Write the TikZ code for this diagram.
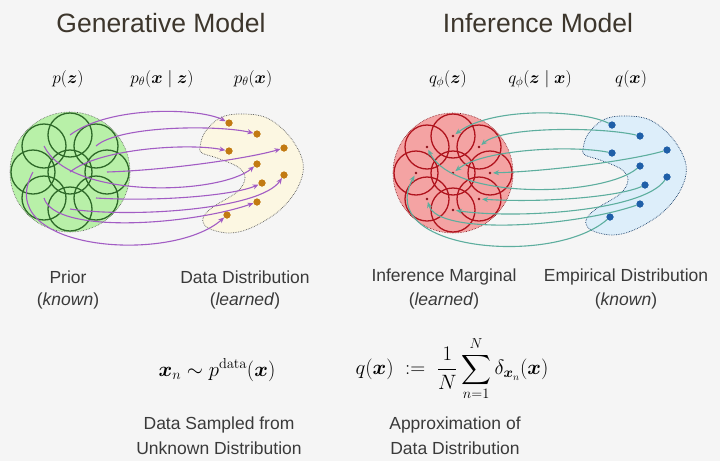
\documentclass[tikz,border=0pt]{standalone}
\usepackage{amsmath,bm}
\usepackage[no-math]{fontspec}
\setmainfont{Liberation Sans}
\usetikzlibrary{arrows.meta,calc}
\definecolor{bgc}{HTML}{F5F5F5}
\definecolor{gfill}{HTML}{B8F0A8}
\definecolor{gline}{HTML}{2F6A2A}
\definecolor{rfill}{HTML}{F4A3A3}
\definecolor{rline}{HTML}{B0141E}
\definecolor{purp}{HTML}{A25CC4}
\definecolor{tealc}{HTML}{5DAE9E}
\definecolor{yfill}{HTML}{FCF7E2}
\definecolor{bfill}{HTML}{DDEEFA}
\definecolor{odot}{HTML}{C27A12}
\definecolor{bdot}{HTML}{1F5FA8}
\definecolor{txt}{HTML}{3A3A3A}
\definecolor{ttl}{HTML}{3D362C}
\begin{document}
\begin{tikzpicture}[x=1pt,y=-1pt,
  title/.style={text=ttl,font=\fontsize{26.5}{30}\selectfont,inner sep=0pt},
  lab/.style={text=txt,font=\fontsize{17.5}{20}\selectfont,inner sep=0pt},
  mlab/.style={text=black,font=\fontsize{17}{20}\selectfont,inner sep=0pt},
  fml/.style={text=black,font=\fontsize{20}{24}\selectfont,inner sep=0pt},
  bigg/.style={circle,minimum size=120pt,inner sep=0pt,fill=gfill,draw=gray!70!black,densely dotted,line width=0.6pt},
  bigr/.style={circle,minimum size=120pt,inner sep=0pt,fill=rfill,draw=rline!70!black,densely dotted,line width=0.6pt},
  ringg/.style={draw=gline,line width=1.3pt},
  ringr/.style={draw=rline,line width=1.3pt},
  blobg/.style={fill=yfill,draw=gray!70!black,densely dotted,line width=0.7pt},
  blobr/.style={fill=bfill,draw=bdot!60!black,densely dotted,line width=0.7pt},
  ldot/.style={circle,fill=odot,minimum size=7pt,inner sep=0pt},
  rdot/.style={circle,fill=bdot,minimum size=7pt,inner sep=0pt},
  cdot/.style={circle,fill=rline!80!black,minimum size=2.8pt,inner sep=0pt},
  parrow/.style={draw=purp,line width=1.1pt,-{Stealth[length=6pt,width=5pt]}},
  tarrow/.style={draw=tealc,line width=1.1pt,{Stealth[length=6pt,width=5pt]}-,shorten <=3pt}
]
\fill[bgc] (0,0) rectangle (720,461);
\useasboundingbox (0,0) rectangle (720,461);

% titles
\node[title] (t1) at (161,23) {Generative Model};
\node[title] (t2) at (538,23) {Inference Model};

% math labels
\node[mlab] (m1) at (68,79) {$p(\bm{z})$};
\node[mlab] (m2) at (162,79) {$p_\theta(\bm{x}\mid\bm{z})$};
\node[mlab] (m3) at (253,79) {$p_\theta(\bm{x})$};
\node[mlab] (m4) at (448,79) {$q_\phi(\bm{z})$};
\node[mlab] (m5) at (540,79) {$q_\phi(\bm{z}\mid\bm{x})$};
\node[mlab] (m6) at (631,79) {$q(\bm{x})$};

% ---------- left panel ----------
\node[bigg] (G) at (70,172) {};
\foreach \n/\dx/\dy in {C/0/0,T/0/-37,TR/26/-26,R/37/0,BR/26/26,B/0/37,BL/-26/26,L/-37/0,TL/-26/-26}{
  \coordinate (lg\n) at ($(G)+(\dx,\dy)$);
  \draw[ringg] (lg\n) circle (22pt);
}
\draw[blobg] plot[smooth cycle,tension=0.6] coordinates {
  (200,147) (205,132) (220,118) (240,114) (267,118) (290,137) (303,163)
  (298,187) (280,210) (253,227) (230,233) (208,228) (203,218) (213,207)
  (237,192) (245,178) (238,167) (217,158) (202,153)};
\foreach \i/\x/\y in {1/229/123,2/257/134,3/229/151,4/284/148,5/257/164,6/262/183,7/284/175,8/257/202,9/227/215}{
  \node[ldot] (ld\i) at (\x,\y) {};
}
\foreach \n/\i/\ax/\ay/\bx/\by in {T/1/40/-30/-29/-15, TR/2/24/-21/-37/-9, C/3/30/-24/-39/-8,
  R/4/63/-2/-34/10, TL/5/26/54/-37/31, BR/6/64/4/-27/12, B/7/60/9/-24/35,
  BL/8/11/37/-67/23, L/9/-43/78/-57/50}{
  \draw[parrow] (lg\n) .. controls +(\ax,\ay) and +(\bx,\by) .. (ld\i);
}
\foreach \i in {1,...,9}{
  \fill[odot] (ld\i) circle (3.5pt);
}

% ---------- right panel ----------
\node[bigr] (R) at (453,173) {};
\foreach \n/\dx/\dy in {C/0/0,T/0/-37,TR/26/-26,R/37/0,BR/26/26,B/0/37,BL/-26/26,L/-37/0,TL/-26/-26}{
  \coordinate (rg\n) at ($(R)+(\dx,\dy)$);
  \draw[ringr] (rg\n) circle (22pt);
}
\foreach \n in {C,T,TR,R,BR,B,BL,L,TL}{
  \node[cdot] (rc\n) at (rg\n) {};
}
\begin{scope}[shift={(383,2)}]
\draw[blobr] plot[smooth cycle,tension=0.6] coordinates {
  (200,147) (205,132) (220,118) (240,114) (267,118) (290,137) (303,163)
  (298,187) (280,210) (253,227) (230,233) (208,228) (203,218) (213,207)
  (237,192) (245,178) (238,167) (217,158) (202,153)};
\foreach \i/\x/\y in {1/229/123,2/257/134,3/229/151,4/284/148,5/257/164,6/262/183,7/284/175,8/257/202,9/227/215}{
  \node[rdot] (rd\i) at (\x,\y) {};
}
\end{scope}
\foreach \n/\i/\ax/\ay/\bx/\by in {T/1/40/-30/-29/-15, TR/2/24/-21/-37/-9, C/3/30/-24/-39/-8,
  R/4/63/-2/-34/10, TL/5/26/54/-37/31, BR/6/64/4/-27/12, B/7/60/9/-24/35,
  BL/8/11/37/-67/23, L/9/-43/78/-57/50}{
  \draw[tarrow] (rg\n) .. controls +(\ax,\ay) and +(\bx,\by) .. (rd\i);
}
\foreach \i in {1,...,9}{
  \fill[bdot] (rd\i) circle (3.5pt);
}

% ---------- labels ----------
\node[lab] (l1) at (68,277) {Prior};
\node[lab] (l1b) at (68,301) {(\textit{known})};
\node[lab] (l2) at (245,277) {Data Distribution};
\node[lab] (l2b) at (245,301) {(\textit{learned})};
\node[lab] (l3) at (444,277) {Inference Marginal};
\node[lab] (l3b) at (444,301) {(\textit{learned})};
\node[lab] (l4) at (626,277) {Empirical Distribution};
\node[lab] (l4b) at (626,301) {(\textit{known})};

% ---------- formulas ----------
\node[fml] (f1) at (217,370) {$\bm{x}_n \sim p^{\mathrm{data}}(\bm{x})$};
\node[fml] (f2) at (452,369) {$q(\bm{x}) \;:=\; \dfrac{1}{N}\displaystyle\sum_{n=1}^{N}\delta_{\bm{x}_n}(\bm{x})$};
\node[lab] (b1) at (219,425) {Data Sampled from};
\node[lab] (b1b) at (219,448) {Unknown Distribution};
\node[lab] (b2) at (455,425) {Approximation of};
\node[lab] (b2b) at (455,448) {Data Distribution};
\end{tikzpicture}
\end{document}
